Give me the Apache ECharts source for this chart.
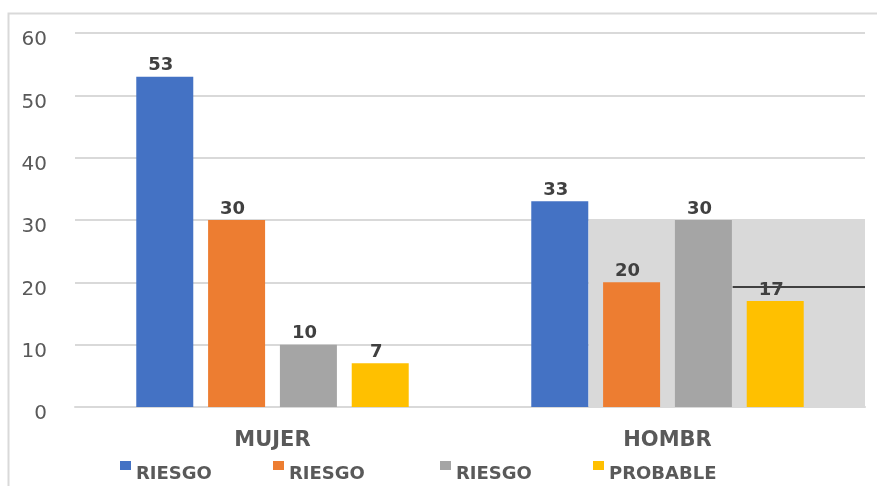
<!DOCTYPE html>
<html><head><meta charset="utf-8">
<script src="https://cdn.jsdelivr.net/npm/echarts@6/dist/echarts.min.js"></script>
<style>html,body{margin:0;padding:0;background:#fff}#c{width:877px;height:486px}</style>
</head><body><div id="c"></div>
<script>
const categories = ['MUJER', 'HOMBR'];
const seriesNames = ['RIESGO 1', 'RIESGO 2', 'RIESGO 3', 'PROBABLE'];
const legendLabels = ['RIESGO', 'RIESGO', 'RIESGO', 'PROBABLE'];
const colors = ['#4472C4', '#ED7D31', '#A5A5A5', '#FFC000'];
const valuesRiesgo1 = [53, 33];
const valuesRiesgo2 = [30, 20];
const valuesRiesgo3 = [10, 30];
const valuesProbable = [7, 17];
const allValues = [valuesRiesgo1, valuesRiesgo2, valuesRiesgo3, valuesProbable];
const yTicks = [0, 10, 20, 30, 40, 50, 60];
// artifact overlay in the source picture (gray band and dark line over the HOMBR group)
const bandX = [1.3, 2];
const bandY = [0, 30];
const lineX = [1.665, 2];
const lineY = 19.3;

const FONT = 'DejaVu Sans';
const chart = echarts.init(document.getElementById('c'), null, {renderer: 'canvas'});
const legendLefts = [120, 273, 440, 593];

const barSeries = seriesNames.map((n, i) => ({
  name: n, type: 'bar', data: allValues[i], barWidth: 57, barGap: '26%', z: 3,
  itemStyle: {color: colors[i]},
  label: {show: true, position: 'top', distance: 2, offset: [-4, 0], color: '#404040',
    fontFamily: FONT, fontWeight: 'bold', fontSize: 18}
}));

chart.setOption({
  animation: false,
  textStyle: {fontFamily: FONT},
  grid: {left: 75, right: 12, top: 33, bottom: 79, containLabel: false},
  graphic: [{type: 'rect', shape: {x: 8.5, y: 13.5, width: 1000, height: 1000},
    style: {fill: 'none', stroke: '#d9d9d9', lineWidth: 2}, z: -10, silent: true}],
  legend: seriesNames.map((n, i) => ({
    data: [n], left: legendLefts[i], top: 461, itemWidth: 11, itemHeight: 9, itemGap: 0,
    padding: 0, icon: 'rect',
    formatter: () => '{t|' + legendLabels[i] + '}',
    textStyle: {color: '#595959', fontFamily: FONT, fontWeight: 'bold', fontSize: 18,
      rich: {t: {color: '#595959', fontFamily: FONT, fontWeight: 'bold', fontSize: 18, padding: [17, 0, 0, 0]}}}
  })),
  xAxis: [{
    type: 'category', data: categories,
    axisLine: {show: true, lineStyle: {color: '#d9d9d9', width: 2}},
    axisTick: {show: false},
    axisLabel: {color: '#595959', fontFamily: FONT, fontWeight: 'bold', fontSize: 21, margin: 23}
  }, {
    type: 'value', min: 0, max: 2, show: false
  }],
  yAxis: {
    type: 'value', min: yTicks[0], max: yTicks[yTicks.length - 1], interval: 10,
    axisLine: {show: false}, axisTick: {show: false},
    splitLine: {lineStyle: {color: '#d9d9d9', width: 2}},
    axisLabel: {color: '#595959', fontFamily: FONT, fontSize: 20, margin: 28,
      formatter: v => '{v|' + v + '}',
      rich: {v: {color: '#595959', fontFamily: FONT, fontSize: 20, padding: [14, 0, 0, 0]}}}
  },
  series: [{
    type: 'line', xAxisIndex: 1, data: [], z: 1, silent: true,
    markArea: {silent: true, itemStyle: {color: '#d9d9d9'},
      data: [[{coord: [bandX[0], bandY[0]]}, {coord: [bandX[1], bandY[1]]}]]},
    markLine: {silent: true, symbol: 'none', label: {show: false},
      lineStyle: {color: '#404040', width: 2, type: 'solid'},
      data: [[{coord: [lineX[0], lineY]}, {coord: [lineX[1], lineY]}]]}
  }].concat(barSeries)
});
</script></body></html>
